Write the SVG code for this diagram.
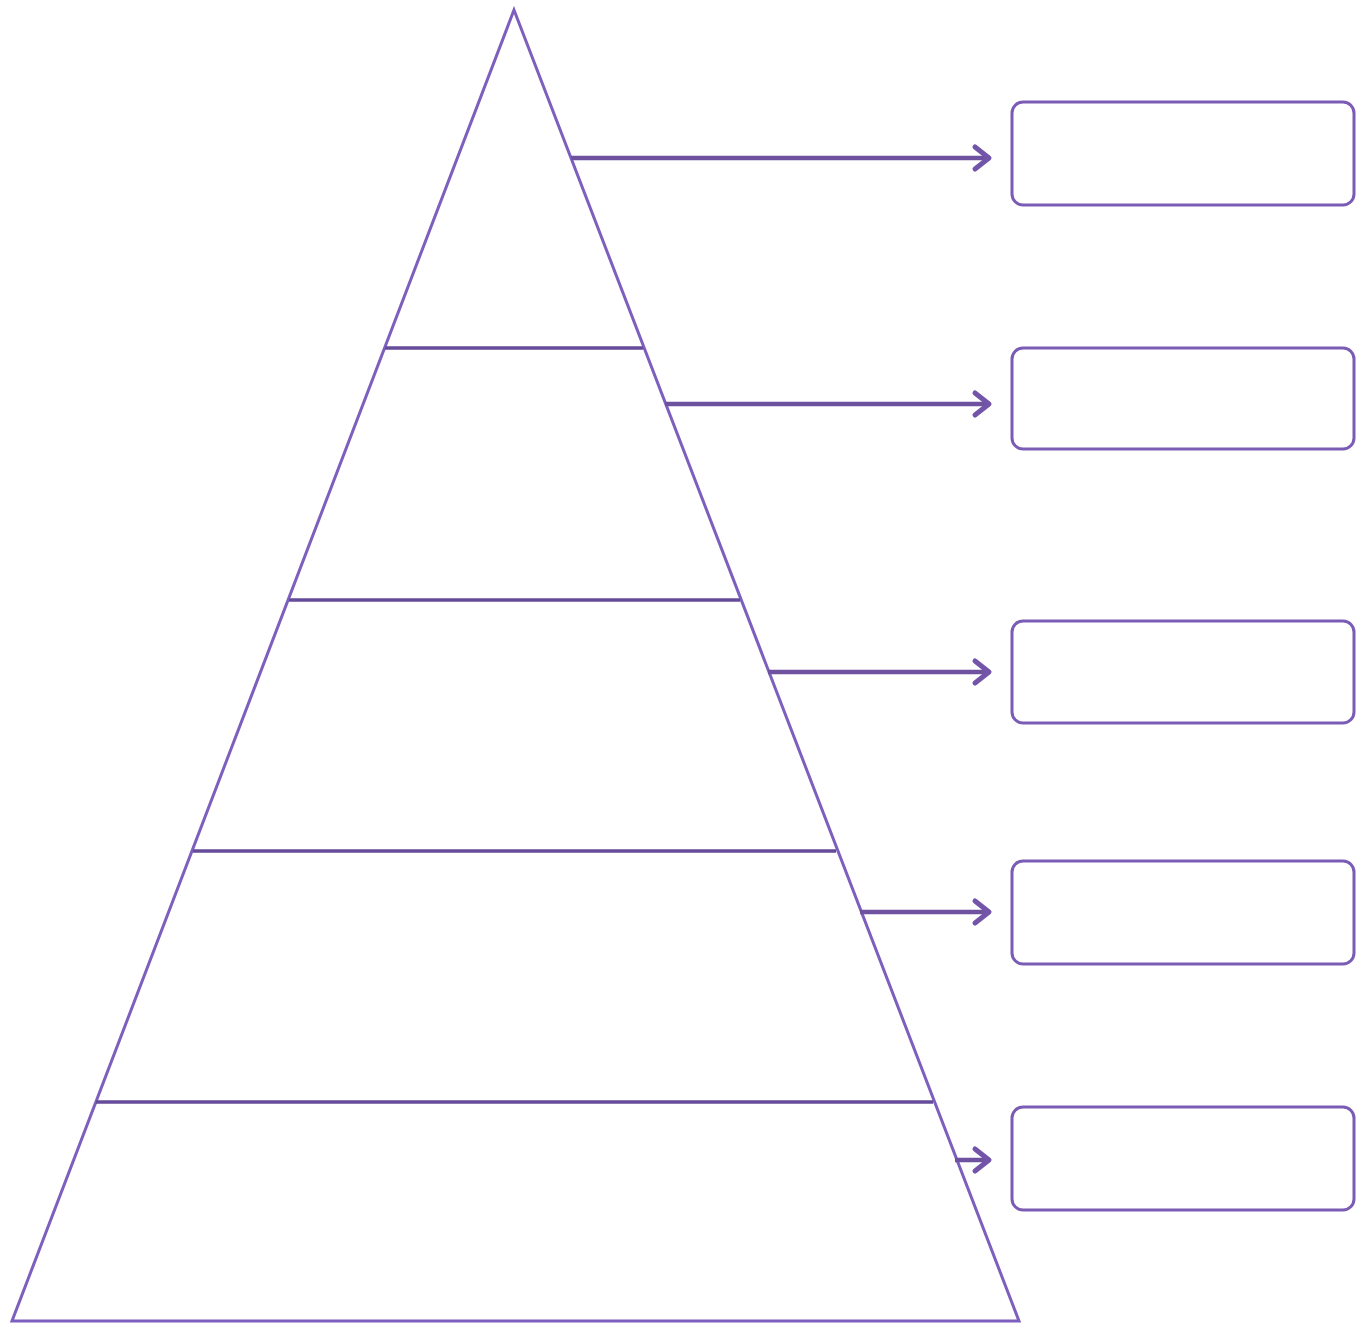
<svg xmlns="http://www.w3.org/2000/svg" width="1367" height="1324" viewBox="0 0 1367 1324">
<style>
.tri{fill:none;stroke:#7d5fbd;stroke-width:3;stroke-linejoin:miter}
.div{stroke:#654b99;stroke-width:3.5}
.arr{stroke:#6e529f;stroke-width:4.5;fill:none}
.head{stroke:#7254a8;stroke-width:5;fill:none;stroke-linecap:round;stroke-linejoin:round}
.box{fill:#ffffff;stroke:#7a5cb5;stroke-width:3}
</style>
<rect width="1367" height="1324" fill="#ffffff"/>
<g id="pyramid">
<polygon class="tri" points="514,10 1019,1321 12,1321"/>
<line class="div" x1="385" y1="348" x2="643" y2="348"/>
<line class="div" x1="289" y1="600" x2="740" y2="600"/>
<line class="div" x1="193" y1="851" x2="836" y2="851"/>
<line class="div" x1="96" y1="1102" x2="933" y2="1102"/>
</g>
<g id="connectors">
<line class="arr" x1="571" y1="158" x2="990" y2="158"/>
<polyline class="head" points="975,147 989,158 975,169"/>
<line class="arr" x1="665" y1="404" x2="990" y2="404"/>
<polyline class="head" points="975,393 989,404 975,415"/>
<line class="arr" x1="768" y1="672" x2="990" y2="672"/>
<polyline class="head" points="975,661 989,672 975,683"/>
<line class="arr" x1="860" y1="912" x2="990" y2="912"/>
<polyline class="head" points="975,901 989,912 975,923"/>
<line class="arr" x1="955" y1="1160" x2="990" y2="1160"/>
<polyline class="head" points="975,1149 989,1160 975,1171"/>
</g>
<g id="box1"><rect class="box" x="1012" y="102" width="342" height="103" rx="11"/></g>
<g id="box2"><rect class="box" x="1012" y="348" width="342" height="101" rx="11"/></g>
<g id="box3"><rect class="box" x="1012" y="621" width="342" height="102" rx="11"/></g>
<g id="box4"><rect class="box" x="1012" y="861" width="342" height="103" rx="11"/></g>
<g id="box5"><rect class="box" x="1012" y="1107" width="342" height="103" rx="11"/></g>
</svg>
